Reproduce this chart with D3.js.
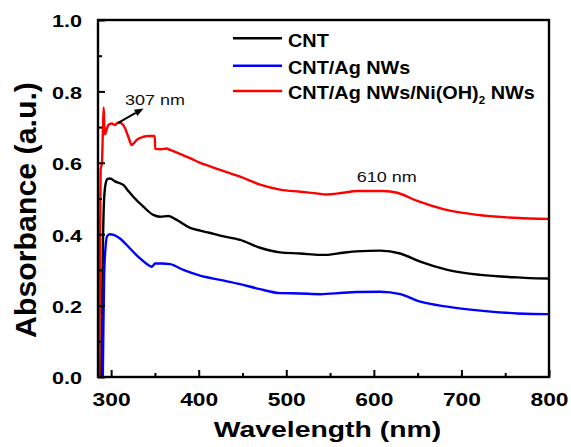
<!DOCTYPE html>
<html><head><meta charset="utf-8">
<script src="https://cdn.jsdelivr.net/npm/d3@7"></script>
<style>
html,body{margin:0;padding:0;background:#fff;}
svg{display:block;font-family:"Liberation Sans",Arial,Helvetica,sans-serif;}
</style></head>
<body>
<svg id="chart" width="571" height="447"></svg>
<script>
// ---- data (wavelength nm, absorbance a.u.) ----
const seriesNames = ["CNT", "CNT/Ag NWs", "CNT/Ag NWs/Ni(OH)2 NWs"];
const seriesColors = ["#000000", "#0000ff", "#ff0000"];

const cntData = [
  [288.5,0.0],[289.5,0.15],[290.5,0.35],[292,0.5],[294,0.545],[296,0.555],[298.7,0.556],
  [304.4,0.548],[313.9,0.538],[320,0.52],[325.3,0.505],[336.8,0.477],[348.2,0.454],
  [355.9,0.449],[365.3,0.451],[374.9,0.44],[390.1,0.418],[401.6,0.41],[412,0.404],
  [424.4,0.396],[447.3,0.384],[470.1,0.362],[493,0.349],[515.9,0.346],[538.7,0.342],
  [544.4,0.342],[565,0.348],[580,0.352],[607.3,0.354],[630.1,0.346],[653,0.323],
  [683.9,0.30],[721.6,0.286],[763.9,0.279],[798,0.276],[800,0.276]
];
const cntAgData = [
  [290.5,0.0],[291.2,0.15],[292,0.28],[293.5,0.36],[295.5,0.395],[298.7,0.40],[303,0.398],
  [310.1,0.388],[321.6,0.36],[333,0.332],[340,0.318],[346.4,0.309],[348,0.312],[350.1,0.318],
  [358,0.318],[367.3,0.316],[382.5,0.30],[401.6,0.284],[424.4,0.272],[447.3,0.26],
  [470.1,0.246],[493,0.235],[515.9,0.234],[538.7,0.232],[565,0.236],[580,0.238],
  [607.3,0.239],[630.1,0.232],[653,0.211],[683.9,0.197],[721.6,0.186],[763.9,0.178],
  [798,0.176],[800,0.176]
];
const cntAgNiData = [
  [286.5,0.0],[287.2,0.30],[288,0.58],[289.5,0.60],[290.5,0.68],[291.5,0.755],[292.3,0.70],
  [293,0.68],[294.5,0.69],[296.8,0.706],[300.7,0.71],[304.4,0.706],[307.5,0.712],
  [310.1,0.712],[315.9,0.697],[320,0.67],[323.5,0.65],[326,0.655],[329.2,0.664],
  [336.8,0.673],[343,0.675],[349.8,0.675],[350.3,0.639],[357,0.638],[363.5,0.64],
  [367.3,0.636],[378,0.626],[390.1,0.613],[401.6,0.600],[413,0.590],[424.4,0.580],
  [447.3,0.561],[470.1,0.539],[493,0.525],[515.9,0.519],[538.7,0.513],[544.4,0.511],
  [565,0.516],[581,0.521],[610.7,0.521],[626.7,0.516],[649.6,0.493],[679.3,0.470],
  [718.1,0.454],[752.4,0.447],[798,0.443],[800,0.443]
];

const xMajorTicks = [300, 400, 500, 600, 700, 800];
const xMinorTicks = [350, 450, 550, 650, 750];
const yMajorTicks = [0.0, 0.2, 0.4, 0.6, 0.8, 1.0];
const yMinorTicks = [0.1, 0.3, 0.5, 0.7, 0.9];
const xDomain = [285, 800];
const yDomain = [0, 1];

const annotations = [
  {text: "307 nm", x: 315.8, y: 0.762},
  {text: "610 nm", x: 580.4, y: 0.545}
];
const arrowFrom = [308, 0.712];
const arrowTo = [337, 0.752];

// ---- layout ----
const L = 98, R = 549, T = 20, B = 377;
const svg = d3.select("#chart");
const x = d3.scaleLinear().domain(xDomain).range([L, R]);
const y = d3.scaleLinear().domain(yDomain).range([B, T]);

svg.append("defs").append("clipPath").attr("id","clip")
  .append("rect").attr("x",L).attr("y",T).attr("width",R-L).attr("height",B-T);

// series
const lineGen = d3.line().x(d => x(d[0])).y(d => y(d[1])).curve(d3.curveMonotoneX);
const allSeries = [cntData, cntAgData, cntAgNiData];
const gLines = svg.append("g").attr("clip-path","url(#clip)");
allSeries.forEach((s,i) => {
  gLines.append("path").datum(s).attr("d", lineGen)
    .attr("fill","none").attr("stroke", seriesColors[i])
    .attr("stroke-width", 2.4).attr("stroke-linejoin","round");
});

// axes
function styleAxis(g){
  g.select(".domain").remove();
  g.selectAll(".tick line").attr("stroke","#000").attr("stroke-width",2);
}
const xAx = svg.append("g").attr("transform",`translate(0,${B})`)
  .call(d3.axisBottom(x).tickValues(xMajorTicks).tickSize(-7).tickPadding(16).tickFormat(d3.format("d")));
styleAxis(xAx);
xAx.selectAll("text").attr("font-size",19).attr("font-weight","bold").attr("fill","#000")
  .attr("font-family","'Liberation Sans',Arial,sans-serif")
  .attr("transform","scale(1.2,1)");
const xAxMinor = svg.append("g").attr("transform",`translate(0,${B})`)
  .call(d3.axisBottom(x).tickValues(xMinorTicks).tickSize(-4).tickFormat(""));
styleAxis(xAxMinor);

const yAx = svg.append("g").attr("transform",`translate(${L},0)`)
  .call(d3.axisLeft(y).tickValues(yMajorTicks).tickSize(-7).tickFormat(d3.format(".1f")));
styleAxis(yAx);
yAx.selectAll("text").attr("font-size",17).attr("font-weight","bold").attr("fill","#000")
  .attr("font-family","'Liberation Sans',Arial,sans-serif")
  .attr("x", -16/1.27).attr("dy","0.4em")
  .attr("transform","scale(1.27,1)");
const yAxMinor = svg.append("g").attr("transform",`translate(${L},0)`)
  .call(d3.axisLeft(y).tickValues(yMinorTicks).tickSize(-4).tickFormat(""));
styleAxis(yAxMinor);

// frame
svg.append("rect").attr("x",L).attr("y",T).attr("width",R-L).attr("height",B-T)
  .attr("fill","none").attr("stroke","#000").attr("stroke-width",2.4);

// axis titles
svg.append("text").attr("transform","translate(327.5,436.7) scale(1.32,1)")
  .attr("text-anchor","middle").attr("font-size",21.5).attr("font-weight","bold")
  .text("Wavelength (nm)");
svg.append("text").attr("transform","translate(36,210) rotate(-90) scale(1.045,1)")
  .attr("text-anchor","middle").attr("font-size",29).attr("font-weight","bold")
  .text("Absorbance (a.u.)");

// legend
const legY = [38.3, 65.7, 91];
const leg = svg.append("g");
seriesNames.forEach((name,i) => {
  leg.append("line").attr("x1",233).attr("x2",282).attr("y1",legY[i]).attr("y2",legY[i])
    .attr("stroke",seriesColors[i]).attr("stroke-width",2.4);
  const t = leg.append("text")
    .attr("transform",`translate(288,${legY[i]+8.2}) scale(1.045,1)`)
    .attr("font-size",19).attr("font-weight","bold").attr("fill","#000");
  const m = name.match(/^(.*\(OH\))2(.*)$/);
  if (m) {
    t.append("tspan").text(m[1]);
    t.append("tspan").attr("font-size",11).attr("dy",5).text("2");
    t.append("tspan").attr("dy",-5).text(m[2]);
  } else {
    t.text(name);
  }
});

// annotation arrow (line + filled head computed from scales)
const ax1 = x(arrowFrom[0]), ay1 = y(arrowFrom[1]);
const ax2 = x(arrowTo[0]),   ay2 = y(arrowTo[1]);
const ang = Math.atan2(ay2 - ay1, ax2 - ax1);
const hl = 9, hw = 3.6;
const bx = ax2 - hl*Math.cos(ang), by = ay2 - hl*Math.sin(ang);
const arrowG = svg.append("g").attr("class","arrow");
arrowG.append("path")
  .attr("d", `M${ax1},${ay1}L${bx},${by}`)
  .attr("fill","none").attr("stroke","#000").attr("stroke-width",2);
arrowG.append("path")
  .attr("d", `M${ax2},${ay2}L${bx + hw*Math.sin(ang)},${by - hw*Math.cos(ang)}L${bx - hw*Math.sin(ang)},${by + hw*Math.cos(ang)}Z`)
  .attr("fill","#000").attr("stroke","none");
annotations.forEach(a => {
  svg.append("text").attr("transform",`translate(${x(a.x)},${y(a.y)}) scale(1.2,1)`)
    .attr("font-size",15).attr("fill","#111").text(a.text);
});
</script>
</body></html>
